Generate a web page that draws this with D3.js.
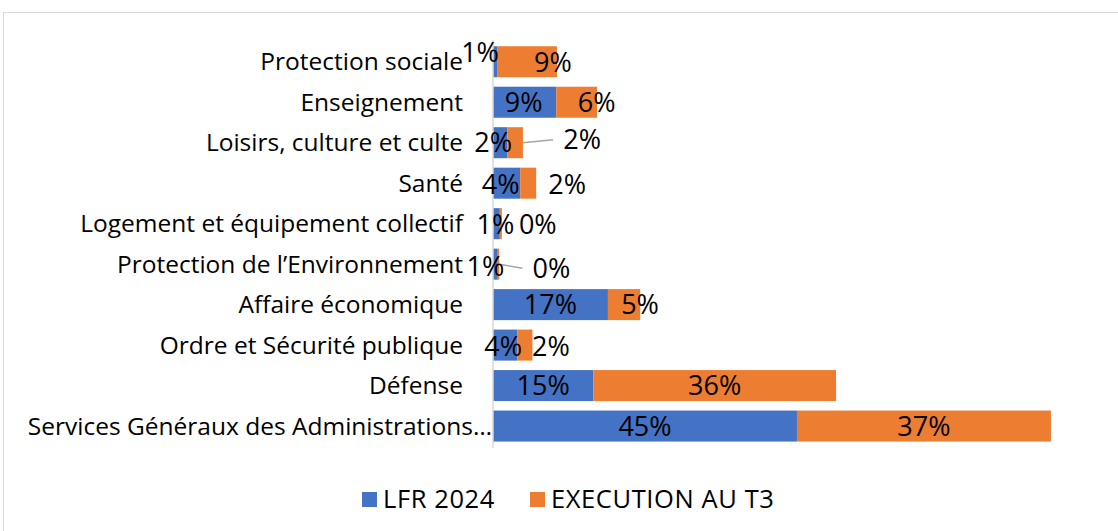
<!DOCTYPE html>
<html>
<head>
<meta charset="utf-8">
<script src="https://cdn.jsdelivr.net/npm/d3@7"></script>
<style>
  html, body { margin: 0; padding: 0; background: #fff; }
  svg { display: block; font-family: "Open Sans", sans-serif; }
</style>
</head>
<body>
<svg id="chart" width="1118" height="531"></svg>
<script>
// categories, top to bottom
const categories = [
  "Protection sociale",
  "Enseignement",
  "Loisirs, culture et culte",
  "Santé",
  "Logement et équipement collectif",
  "Protection de l\u2019Environnement",
  "Affaire économique",
  "Ordre et Sécurité publique",
  "Défense",
  "Services Généraux des Administrations\u2026",
];
const seriesNames = ["LFR 2024", "EXECUTION AU T3"];
const lfr2024 = [0.006, 0.093, 0.021, 0.04, 0.01, 0.007, 0.169, 0.036, 0.1475, 0.447];
const executionT3 = [0.088, 0.06, 0.023, 0.0235, 0.003, 0.002, 0.0475, 0.022, 0.357, 0.3735];
const colors = ["#4472c4", "#ed7d31"];

// manual data label nudges (px), like the hand-moved labels in the original
const labelNudge = [
  [[-15, -9], [26, 1]],
  [[-1, 0], [20, 0]],
  [[-7, 0], [67, -3]],
  [[-6, 1], [39, 1]],
  [[-1, 1], [37, 1]],
  [[-10, 2], [53, 4]],
  [[0, 0], [16, 0]],
  [[-2, 1], [26, 1]],
  [[0, 0], [0, 0]],
  [[0, 0], [0, 0]],
];
// labels that get a leader line back to their segment
const leaders = [[2, 1], [5, 1]];

const svg = d3.select("#chart");
svg.append("rect").attr("width", 1118).attr("height", 531).attr("fill", "#fff");

// chart area border
svg.append("rect")
  .attr("x", 3.5).attr("y", 12.5)
  .attr("width", 1300).attr("height", 700)
  .attr("fill", "none").attr("stroke", "#d9d9d9");

const x = d3.scaleLinear().domain([0, 0.9]).range([493, 1105]);
const y = d3.scaleBand()
  .domain(categories)
  .range([41.5, 446.3])
  .paddingInner(0.234)
  .paddingOuter(0.117);

const rows = categories.map((c, i) => ({ cat: c, vals: [lfr2024[i], executionT3[i]] }));
const stack = rows.map((r) => {
  let acc = 0;
  return r.vals.map((v, s) => {
    const seg = { cat: r.cat, s, x0: acc, x1: acc + v, v };
    acc += v;
    return seg;
  });
});

// bars
svg.append("g")
  .selectAll("g")
  .data(stack)
  .join("g")
  .selectAll("rect")
  .data((d) => d)
  .join("rect")
  .attr("x", (d) => x(d.x0))
  .attr("y", (d) => y(d.cat))
  .attr("width", (d) => x(d.x1) - x(d.x0))
  .attr("height", y.bandwidth())
  .attr("fill", (d) => colors[d.s]);

// vertical axis line
svg.append("line")
  .attr("x1", x(0)).attr("x2", x(0))
  .attr("y1", 40).attr("y2", 448)
  .attr("stroke", "#d9d9d9").attr("stroke-width", 1.5);

// category labels (the truncated one overflows up to the axis, as in Excel)
svg.append("g")
  .selectAll("text")
  .data(categories)
  .join("text")
  .attr("x", (d) => (d.endsWith("\u2026") ? 492 : 463))
  .attr("y", (d) => y(d) + y.bandwidth() / 2)
  .attr("dy", "0.35em")
  .attr("text-anchor", "end")
  .attr("font-size", 24.5)
  .attr("fill", "#000")
  .text((d) => d);

const fmt = d3.format(".0%");
const labelPos = (d, i) => {
  const n = labelNudge[i][d.s];
  return [(x(d.x0) + x(d.x1)) / 2 + n[0], y(d.cat) + y.bandwidth() / 2 + n[1]];
};

// leader lines
leaders.forEach(([i, s]) => {
  const d = stack[i][s];
  const [lx, ly] = labelPos(d, i);
  svg.append("line")
    .attr("x1", x(d.x1))
    .attr("y1", y(d.cat) + y.bandwidth() / 2)
    .attr("x2", lx - 29)
    .attr("y2", ly)
    .attr("stroke", "#a6a6a6")
    .attr("stroke-width", 1.5);
});

// data labels
stack.forEach((row, i) => {
  svg.append("g")
    .selectAll("text")
    .data(row)
    .join("text")
    .attr("x", (d) => labelPos(d, i)[0])
    .attr("y", (d) => labelPos(d, i)[1])
    .attr("dy", "0.35em")
    .attr("text-anchor", "middle")
    .attr("font-size", 27)
    .attr("fill", "#000")
    .text((d) => fmt(d.v));
});

// legend
const legend = svg.append("g");
const legendX = [362, 530];
seriesNames.forEach((name, s) => {
  legend.append("rect")
    .attr("x", legendX[s]).attr("y", 492)
    .attr("width", 15).attr("height", 15)
    .attr("fill", colors[s]);
  legend.append("text")
    .attr("x", legendX[s] + 21).attr("y", 508)
    .attr("font-size", 25.5)
    .attr("letter-spacing", 0.6)
    .attr("fill", "#000")
    .text(name);
});
</script>
</body>
</html>
